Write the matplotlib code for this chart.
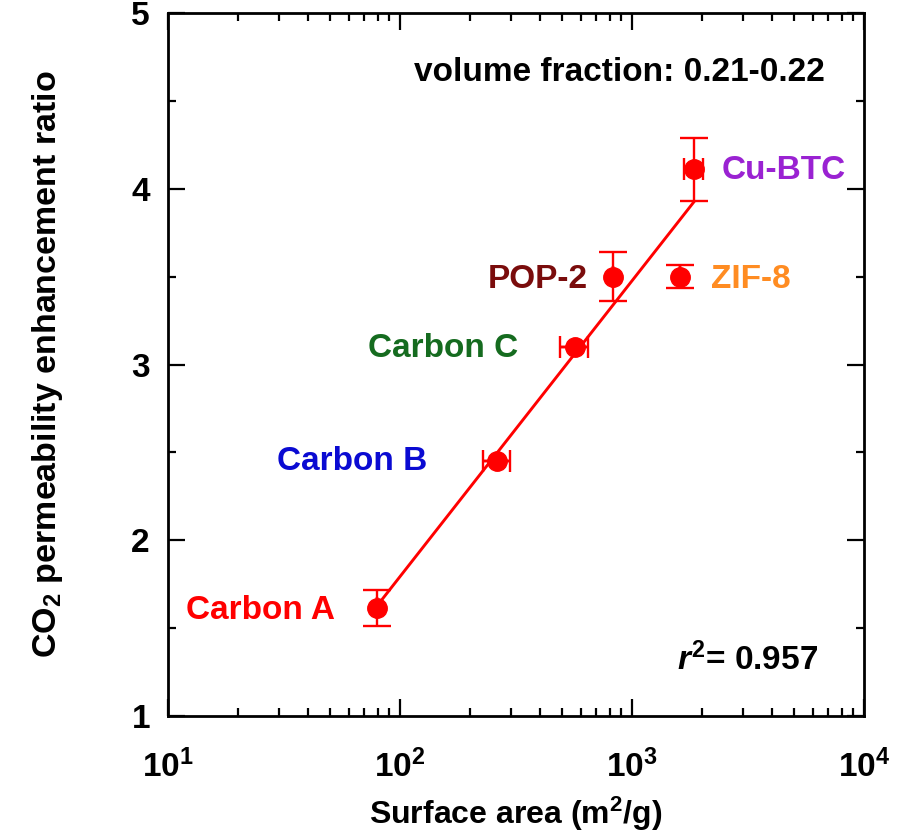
import numpy as np
import matplotlib
matplotlib.use("Agg")
import matplotlib.pyplot as plt
from matplotlib.ticker import MultipleLocator, LogLocator, NullFormatter

plt.rcParams['font.family'] = ['Liberation Sans', 'DejaVu Sans']
plt.rcParams['font.weight'] = 'bold'
plt.rcParams['mathtext.fontset'] = 'custom'
plt.rcParams['mathtext.rm'] = 'Liberation Sans:bold'
plt.rcParams['mathtext.bf'] = 'Liberation Sans:bold'
plt.rcParams['mathtext.it'] = 'Liberation Sans:bold:italic'

# data
names = ['Carbon A', 'Carbon B', 'Carbon C', 'POP-2', 'ZIF-8', 'Cu-BTC']
surface = [79.6, 262, 568, 828, 1610, 1849]          # m2/g
surface_err = [0, 35, 80, 0, 0, 170]
ratio = [1.615, 2.45, 3.10, 3.50, 3.50, 4.11]
ratio_err = [0.10, 0.0, 0.0, 0.14, 0.065, 0.18]
name_colors = ['#ff0000', '#0a0ad2', '#156b1f', '#7a0c0c', '#ff8c22', '#9a22d2']

x_ticks = [10, 100, 1000, 10000]
x_ticklabels = [r'$10^{1}$', r'$10^{2}$', r'$10^{3}$', r'$10^{4}$']
y_ticks = [1, 2, 3, 4, 5]

# linear fit of ratio vs log10(surface)
lx = np.log10(surface)
b, a = np.polyfit(lx, ratio, 1)
r2 = np.corrcoef(lx, ratio)[0, 1] ** 2
fit_x = np.array([min(surface), max(surface)])
fit_y = a + b * np.log10(fit_x)

fig = plt.figure(figsize=(9.14, 8.4), dpi=100)
ax = fig.add_axes([0.1838, 0.1476, 0.7615, 0.8369])

ax.plot(fit_x, fit_y, color='#ff0000', lw=2.1, zorder=2)
ax.errorbar(surface, ratio, yerr=ratio_err, fmt='none', ecolor='#ff0000',
            elinewidth=1.7, capsize=10, capthick=1.7, zorder=3)
ax.errorbar(surface, ratio, xerr=surface_err, fmt='none', ecolor='#ff0000',
            elinewidth=1.7, capsize=8, capthick=1.7, zorder=3)
ax.plot(surface, ratio, 'o', color='#ff0000', ms=14, zorder=4)

# label offsets in points (dx, dy, ha)
offs = [(-30, -2, 'right'), (-50, 0, 'right'), (-41, -1, 'right'),
        (-18, -2, 'right'), (22, -2, 'left'), (20, -1, 'left')]
for nm, sx, ry, c, (dx, dy, ha) in zip(names, surface, ratio, name_colors, offs):
    ax.annotate(nm, (sx, ry), xytext=(dx, dy), textcoords='offset points',
                ha=ha, va='center', fontsize=24, fontweight='bold', color=c)

ax.text(0.944, 0.916, 'volume fraction: 0.21-0.22', transform=ax.transAxes,
        ha='right', va='center', fontsize=24, fontweight='bold')
ax.text(0.934, 0.080, r'$r^{\mathit{2}}$= ' + '%.3f' % r2, transform=ax.transAxes,
        ha='right', va='center', fontsize=24, fontweight='bold')

ax.set_xscale('log')
ax.set_xlim(10, 10000)
ax.set_ylim(1, 5)
ax.set_xticks(x_ticks, labels=x_ticklabels)
ax.xaxis.set_minor_locator(LogLocator(base=10, subs=np.arange(2, 10)))
ax.xaxis.set_minor_formatter(NullFormatter())
ax.set_yticks(y_ticks)
ax.yaxis.set_minor_locator(MultipleLocator(0.5))

ax.tick_params(which='both', direction='in', top=True, right=True, width=1.6)
ax.tick_params(which='major', length=12)
ax.tick_params(which='minor', length=6)
ax.tick_params(axis='x', which='major', labelsize=24, pad=24)
ax.tick_params(axis='y', which='major', labelsize=24, pad=13)
for s in ax.spines.values():
    s.set_linewidth(2)

ax.set_xlabel('Surface area (m$^2$/g)', fontsize=23, fontweight='bold', labelpad=8)
ax.set_ylabel('CO$_2$ permeability enhancement ratio', fontsize=24.5,
              fontweight='bold', labelpad=48)

fig.savefig('out.png', dpi=100)
